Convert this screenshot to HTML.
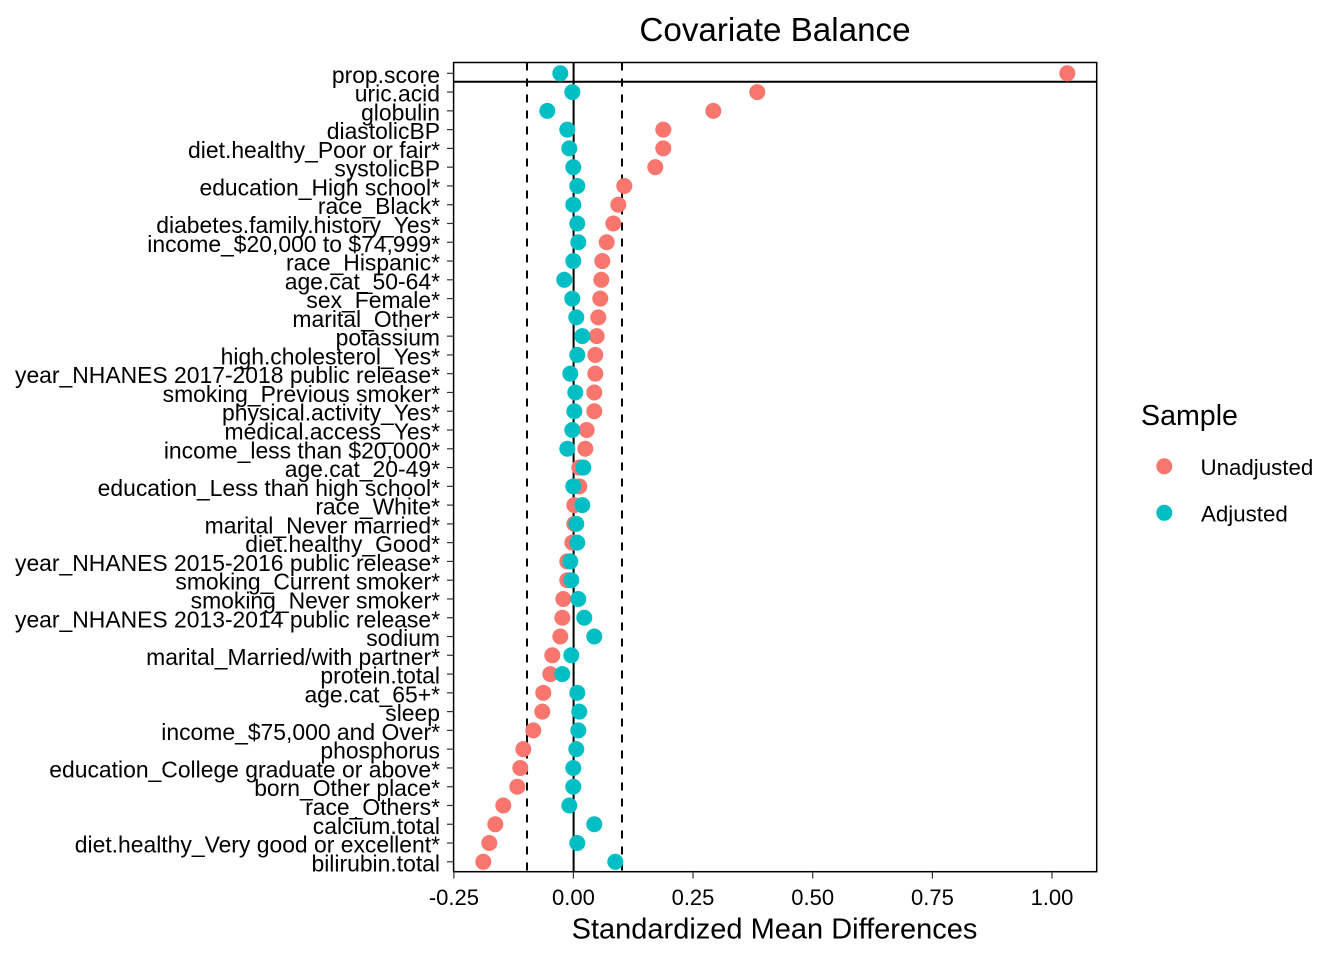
<!DOCTYPE html>
<html>
<head>
<meta charset="utf-8">
<style>
html,body{margin:0;padding:0;background:#fff;}
svg{display:block;}
text{font-family:"Liberation Sans",Arial,sans-serif;fill:#000;}
</style>
</head>
<body>
<svg width="1344" height="960" viewBox="0 0 1344 960" xmlns="http://www.w3.org/2000/svg">
<rect x="0" y="0" width="1344" height="960" fill="#fff"/>
<!-- Title -->
<text x="775" y="41" font-size="33.2" text-anchor="middle">Covariate Balance</text>

<!-- panel lines -->
<line x1="527" y1="62.5" x2="527" y2="871.7" stroke="#000" stroke-width="2" stroke-dasharray="8,8"/>
<line x1="622" y1="62.5" x2="622" y2="871.7" stroke="#000" stroke-width="2" stroke-dasharray="8,8"/>
<line x1="573.6" y1="62.5" x2="573.6" y2="871.7" stroke="#000" stroke-width="2"/>
<line x1="453.6" y1="81.8" x2="1096.7" y2="81.8" stroke="#000" stroke-width="2"/>

<!-- Unadjusted points -->
<g fill="#F8766D">
<circle cx="1067.3" cy="73.3" r="8"/>
<circle cx="757.3" cy="92.07" r="8"/>
<circle cx="713.3" cy="110.85" r="8"/>
<circle cx="663.3" cy="129.62" r="8"/>
<circle cx="663.3" cy="148.40" r="8"/>
<circle cx="655.3" cy="167.17" r="8"/>
<circle cx="624.3" cy="185.94" r="8"/>
<circle cx="618.3" cy="204.72" r="8"/>
<circle cx="613.3" cy="223.49" r="8"/>
<circle cx="606.7" cy="242.27" r="8"/>
<circle cx="602.3" cy="261.04" r="8"/>
<circle cx="601.3" cy="279.81" r="8"/>
<circle cx="600.3" cy="298.59" r="8"/>
<circle cx="598.3" cy="317.36" r="8"/>
<circle cx="596.7" cy="336.14" r="8"/>
<circle cx="595.3" cy="354.91" r="8"/>
<circle cx="595.3" cy="373.68" r="8"/>
<circle cx="594.3" cy="392.46" r="8"/>
<circle cx="594.3" cy="411.23" r="8"/>
<circle cx="586.7" cy="430.01" r="8"/>
<circle cx="585.3" cy="448.78" r="8"/>
<circle cx="579.3" cy="467.55" r="8"/>
<circle cx="579.3" cy="486.33" r="8"/>
<circle cx="574.3" cy="505.10" r="8"/>
<circle cx="574.3" cy="523.88" r="8"/>
<circle cx="572.3" cy="542.65" r="8"/>
<circle cx="567.3" cy="561.42" r="8"/>
<circle cx="567.3" cy="580.20" r="8"/>
<circle cx="563.3" cy="598.97" r="8"/>
<circle cx="562.3" cy="617.75" r="8"/>
<circle cx="560.3" cy="636.52" r="8"/>
<circle cx="552.3" cy="655.29" r="8"/>
<circle cx="550.3" cy="674.07" r="8"/>
<circle cx="543.3" cy="692.84" r="8"/>
<circle cx="542.3" cy="711.62" r="8"/>
<circle cx="533.3" cy="730.39" r="8"/>
<circle cx="523.3" cy="749.16" r="8"/>
<circle cx="520.3" cy="767.94" r="8"/>
<circle cx="517.3" cy="786.71" r="8"/>
<circle cx="503.3" cy="805.49" r="8"/>
<circle cx="495.3" cy="824.26" r="8"/>
<circle cx="489.3" cy="843.03" r="8"/>
<circle cx="483.3" cy="861.81" r="8"/>
</g>
<!-- Adjusted points -->
<g fill="#00BFC4">
<circle cx="560.3" cy="73.3" r="8"/>
<circle cx="572.3" cy="92.07" r="8"/>
<circle cx="547.3" cy="110.85" r="8"/>
<circle cx="567.3" cy="129.62" r="8"/>
<circle cx="569.3" cy="148.40" r="8"/>
<circle cx="573.3" cy="167.17" r="8"/>
<circle cx="577.3" cy="185.94" r="8"/>
<circle cx="573.3" cy="204.72" r="8"/>
<circle cx="577.3" cy="223.49" r="8"/>
<circle cx="578.3" cy="242.27" r="8"/>
<circle cx="573.3" cy="261.04" r="8"/>
<circle cx="564.3" cy="279.81" r="8"/>
<circle cx="572.3" cy="298.59" r="8"/>
<circle cx="576.3" cy="317.36" r="8"/>
<circle cx="582.3" cy="336.14" r="8"/>
<circle cx="577.3" cy="354.91" r="8"/>
<circle cx="570.3" cy="373.68" r="8"/>
<circle cx="575.3" cy="392.46" r="8"/>
<circle cx="574.3" cy="411.23" r="8"/>
<circle cx="572.3" cy="430.01" r="8"/>
<circle cx="567.3" cy="448.78" r="8"/>
<circle cx="583.3" cy="467.55" r="8"/>
<circle cx="573.3" cy="486.33" r="8"/>
<circle cx="582.3" cy="505.10" r="8"/>
<circle cx="576.3" cy="523.88" r="8"/>
<circle cx="577.3" cy="542.65" r="8"/>
<circle cx="570.3" cy="561.42" r="8"/>
<circle cx="571.3" cy="580.20" r="8"/>
<circle cx="578.3" cy="598.97" r="8"/>
<circle cx="584.3" cy="617.75" r="8"/>
<circle cx="594.3" cy="636.52" r="8"/>
<circle cx="571.3" cy="655.29" r="8"/>
<circle cx="562.3" cy="674.07" r="8"/>
<circle cx="577.3" cy="692.84" r="8"/>
<circle cx="579.3" cy="711.62" r="8"/>
<circle cx="578.3" cy="730.39" r="8"/>
<circle cx="576.3" cy="749.16" r="8"/>
<circle cx="573.3" cy="767.94" r="8"/>
<circle cx="573.3" cy="786.71" r="8"/>
<circle cx="569.3" cy="805.49" r="8"/>
<circle cx="594.3" cy="824.26" r="8"/>
<circle cx="577.3" cy="843.03" r="8"/>
<circle cx="615.3" cy="861.81" r="8"/>
</g>

<!-- panel border -->
<rect x="453.6" y="62.5" width="643.1" height="809.2" fill="none" stroke="#000" stroke-width="1.5"/>

<!-- y ticks -->
<g stroke="#333" stroke-width="1.2">
<line x1="447" x2="453.6" y1="73.3" y2="73.3"/>
<line x1="447" x2="453.6" y1="92.07" y2="92.07"/>
<line x1="447" x2="453.6" y1="110.85" y2="110.85"/>
<line x1="447" x2="453.6" y1="129.62" y2="129.62"/>
<line x1="447" x2="453.6" y1="148.40" y2="148.40"/>
<line x1="447" x2="453.6" y1="167.17" y2="167.17"/>
<line x1="447" x2="453.6" y1="185.94" y2="185.94"/>
<line x1="447" x2="453.6" y1="204.72" y2="204.72"/>
<line x1="447" x2="453.6" y1="223.49" y2="223.49"/>
<line x1="447" x2="453.6" y1="242.27" y2="242.27"/>
<line x1="447" x2="453.6" y1="261.04" y2="261.04"/>
<line x1="447" x2="453.6" y1="279.81" y2="279.81"/>
<line x1="447" x2="453.6" y1="298.59" y2="298.59"/>
<line x1="447" x2="453.6" y1="317.36" y2="317.36"/>
<line x1="447" x2="453.6" y1="336.14" y2="336.14"/>
<line x1="447" x2="453.6" y1="354.91" y2="354.91"/>
<line x1="447" x2="453.6" y1="373.68" y2="373.68"/>
<line x1="447" x2="453.6" y1="392.46" y2="392.46"/>
<line x1="447" x2="453.6" y1="411.23" y2="411.23"/>
<line x1="447" x2="453.6" y1="430.01" y2="430.01"/>
<line x1="447" x2="453.6" y1="448.78" y2="448.78"/>
<line x1="447" x2="453.6" y1="467.55" y2="467.55"/>
<line x1="447" x2="453.6" y1="486.33" y2="486.33"/>
<line x1="447" x2="453.6" y1="505.10" y2="505.10"/>
<line x1="447" x2="453.6" y1="523.88" y2="523.88"/>
<line x1="447" x2="453.6" y1="542.65" y2="542.65"/>
<line x1="447" x2="453.6" y1="561.42" y2="561.42"/>
<line x1="447" x2="453.6" y1="580.20" y2="580.20"/>
<line x1="447" x2="453.6" y1="598.97" y2="598.97"/>
<line x1="447" x2="453.6" y1="617.75" y2="617.75"/>
<line x1="447" x2="453.6" y1="636.52" y2="636.52"/>
<line x1="447" x2="453.6" y1="655.29" y2="655.29"/>
<line x1="447" x2="453.6" y1="674.07" y2="674.07"/>
<line x1="447" x2="453.6" y1="692.84" y2="692.84"/>
<line x1="447" x2="453.6" y1="711.62" y2="711.62"/>
<line x1="447" x2="453.6" y1="730.39" y2="730.39"/>
<line x1="447" x2="453.6" y1="749.16" y2="749.16"/>
<line x1="447" x2="453.6" y1="767.94" y2="767.94"/>
<line x1="447" x2="453.6" y1="786.71" y2="786.71"/>
<line x1="447" x2="453.6" y1="805.49" y2="805.49"/>
<line x1="447" x2="453.6" y1="824.26" y2="824.26"/>
<line x1="447" x2="453.6" y1="843.03" y2="843.03"/>
<line x1="447" x2="453.6" y1="861.81" y2="861.81"/>
</g>

<!-- y labels -->
<g font-size="22.9" text-anchor="end" transform="translate(0,1.5)">
<text x="440" y="81.3">prop.score</text>
<text x="440" y="100.07">uric.acid</text>
<text x="440" y="118.85">globulin</text>
<text x="440" y="137.62">diastolicBP</text>
<text x="440" y="156.40">diet.healthy_Poor or fair*</text>
<text x="440" y="175.17">systolicBP</text>
<text x="440" y="193.94">education_High school*</text>
<text x="440" y="212.72">race_Black*</text>
<text x="440" y="231.49">diabetes.family.history_Yes*</text>
<text x="440" y="250.27">income_$20,000 to $74,999*</text>
<text x="440" y="269.04">race_Hispanic*</text>
<text x="440" y="287.81">age.cat_50-64*</text>
<text x="440" y="306.59">sex_Female*</text>
<text x="440" y="325.36">marital_Other*</text>
<text x="440" y="344.14">potassium</text>
<text x="440" y="362.91">high.cholesterol_Yes*</text>
<text x="440" y="381.68">year_NHANES 2017-2018 public release*</text>
<text x="440" y="400.46">smoking_Previous smoker*</text>
<text x="440" y="419.23">physical.activity_Yes*</text>
<text x="440" y="438.01">medical.access_Yes*</text>
<text x="440" y="456.78">income_less than $20,000*</text>
<text x="440" y="475.55">age.cat_20-49*</text>
<text x="440" y="494.33">education_Less than high school*</text>
<text x="440" y="513.10">race_White*</text>
<text x="440" y="531.88">marital_Never married*</text>
<text x="440" y="550.65">diet.healthy_Good*</text>
<text x="440" y="569.42">year_NHANES 2015-2016 public release*</text>
<text x="440" y="588.20">smoking_Current smoker*</text>
<text x="440" y="606.97">smoking_Never smoker*</text>
<text x="440" y="625.75">year_NHANES 2013-2014 public release*</text>
<text x="440" y="644.52">sodium</text>
<text x="440" y="663.29">marital_Married/with partner*</text>
<text x="440" y="682.07">protein.total</text>
<text x="440" y="700.84">age.cat_65+*</text>
<text x="440" y="719.62">sleep</text>
<text x="440" y="738.39">income_$75,000 and Over*</text>
<text x="440" y="757.16">phosphorus</text>
<text x="440" y="775.94">education_College graduate or above*</text>
<text x="440" y="794.71">born_Other place*</text>
<text x="440" y="813.49">race_Others*</text>
<text x="440" y="832.26">calcium.total</text>
<text x="440" y="851.03">diet.healthy_Very good or excellent*</text>
<text x="440" y="869.81">bilirubin.total</text>
</g>

<!-- x ticks -->
<g stroke="#333" stroke-width="1.2">
<line x1="453.9" x2="453.9" y1="871.7" y2="878.5"/>
<line x1="573.4" x2="573.4" y1="871.7" y2="878.5"/>
<line x1="693" x2="693" y1="871.7" y2="878.5"/>
<line x1="812.7" x2="812.7" y1="871.7" y2="878.5"/>
<line x1="932.4" x2="932.4" y1="871.7" y2="878.5"/>
<line x1="1052" x2="1052" y1="871.7" y2="878.5"/>
</g>
<g font-size="22" text-anchor="middle">
<text x="453.9" y="905">-0.25</text>
<text x="573.4" y="905">0.00</text>
<text x="693" y="905">0.25</text>
<text x="812.7" y="905">0.50</text>
<text x="932.4" y="905">0.75</text>
<text x="1052" y="905">1.00</text>
</g>
<text x="774.5" y="938.5" font-size="29" text-anchor="middle">Standardized Mean Differences</text>

<!-- legend -->
<text x="1141" y="425" font-size="28.6">Sample</text>
<circle cx="1164.3" cy="466.3" r="8" fill="#F8766D"/>
<circle cx="1164.3" cy="512.8" r="8" fill="#00BFC4"/>
<text x="1200.5" y="474.8" font-size="22.3">Unadjusted</text>
<text x="1201" y="521.3" font-size="22.3">Adjusted</text>
</svg>
</body>
</html>
